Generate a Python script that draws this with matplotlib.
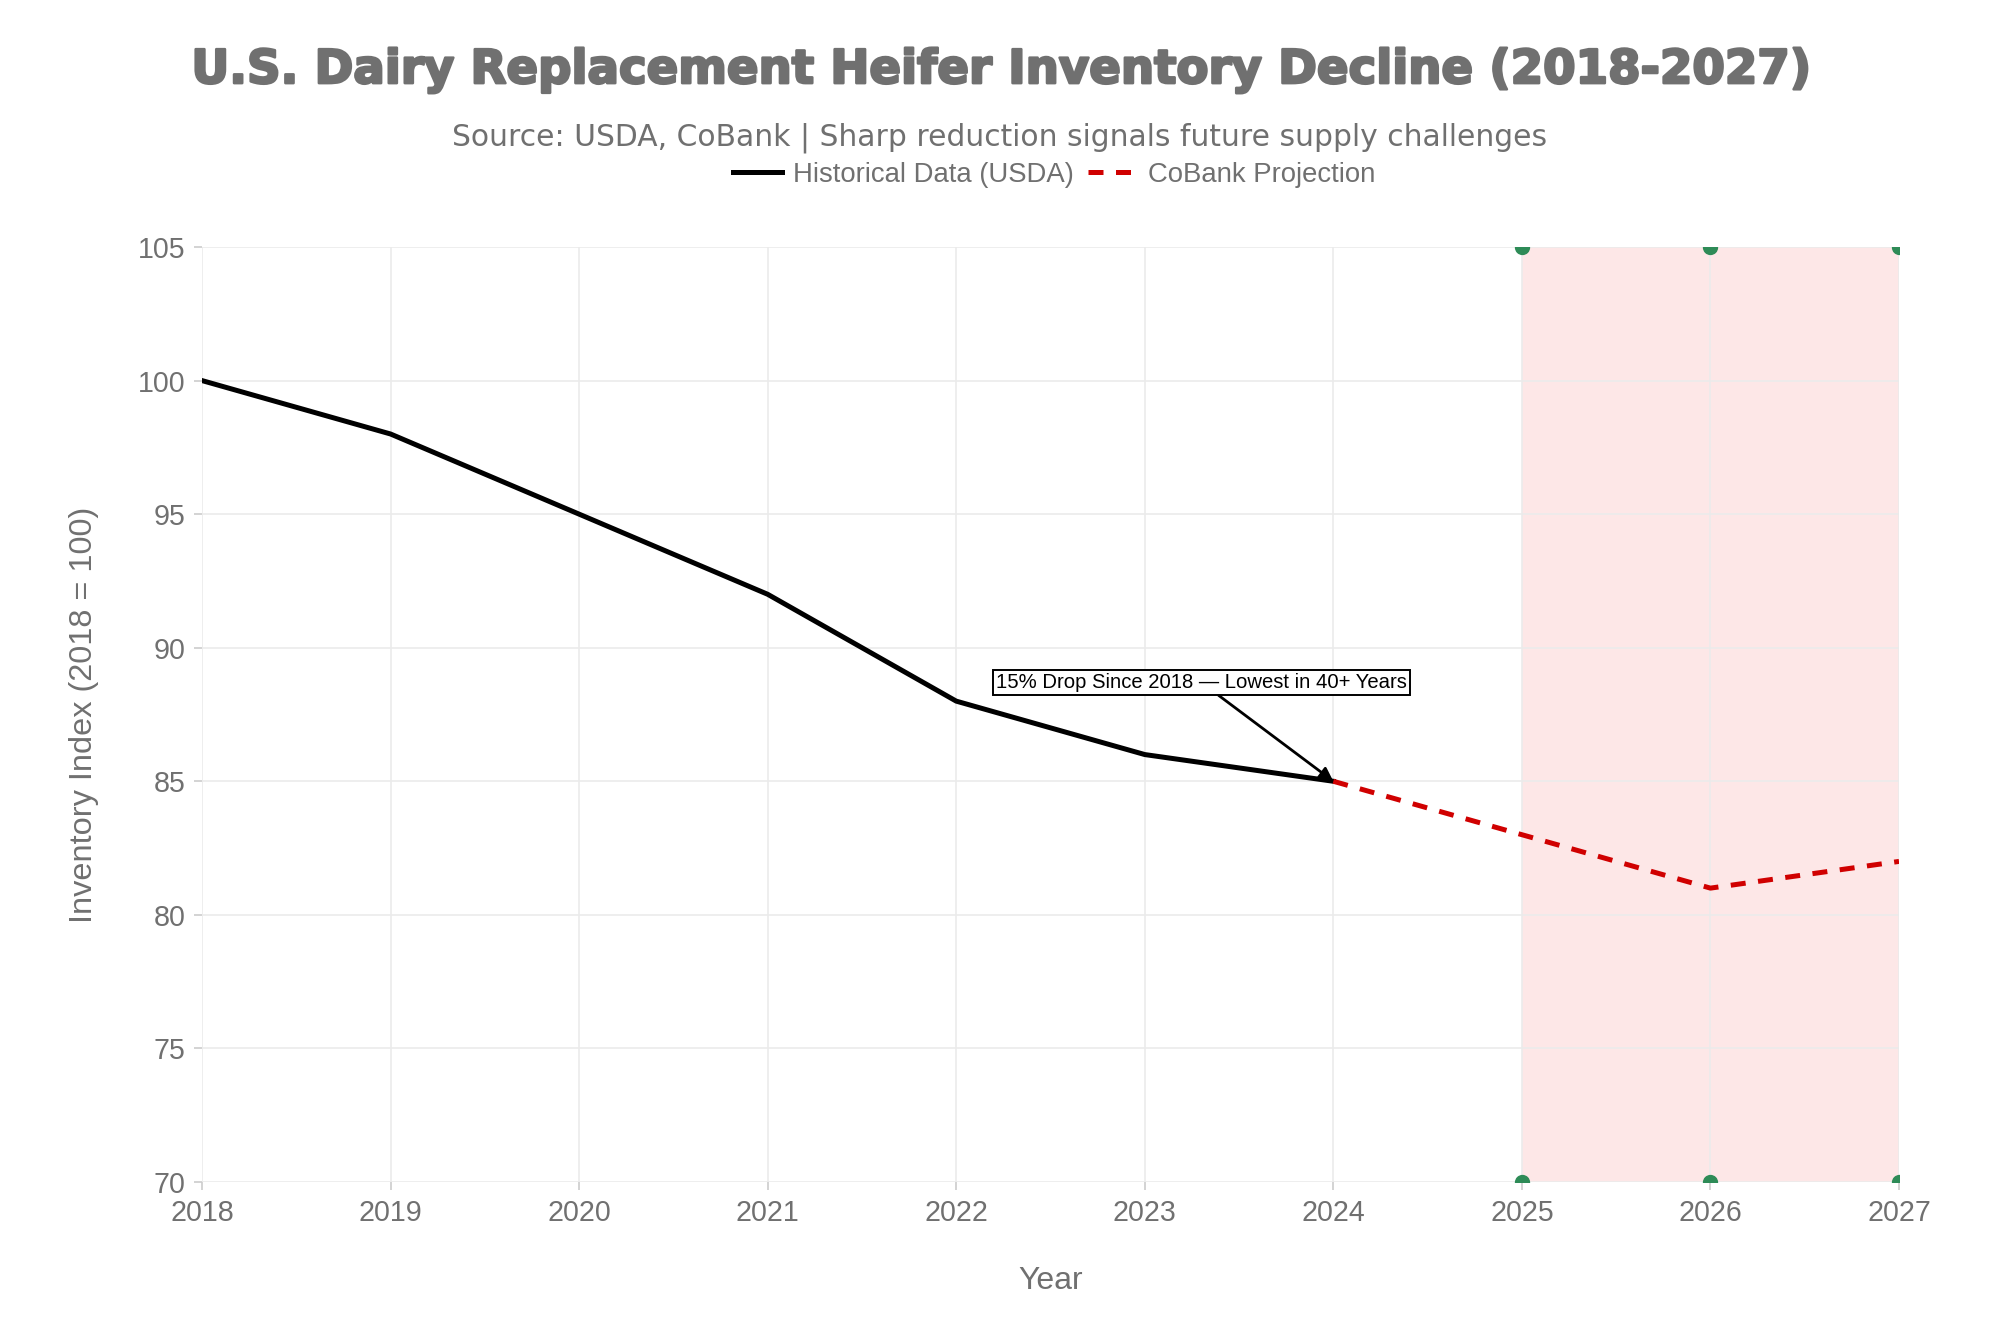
import numpy as np
import matplotlib.pyplot as plt
import matplotlib.patheffects as pe
from matplotlib.lines import Line2D

# data
hist_years = [2018, 2019, 2020, 2021, 2022, 2023, 2024]
hist_index = [100, 98, 95, 92, 88, 86, 85]
proj_years = [2024, 2025, 2026, 2027]
proj_index = [85, 83, 81, 82]
shade_years = [2025, 2026, 2027]
y_ticks = [70, 75, 80, 85, 90, 95, 100, 105]

grey = '#707070'
plt.rcParams['font.family'] = ['Liberation Sans', 'DejaVu Sans']

fig = plt.figure(figsize=(10, 6.665), dpi=200)
ax = fig.add_axes([0.101, 0.1133, 0.8485, 0.7014])

ax.axvspan(2025, 2027, color='#fde7e7', zorder=0, lw=0)
ax.plot(hist_years, hist_index, color='black', lw=1.8, zorder=3)
ax.plot(proj_years, proj_index, color='#d00000', lw=1.8, ls=(0, (3, 2.5)), zorder=3)
for yv in (70, 105):
    ax.plot(shade_years, [yv] * len(shade_years), 'o', color='#2e8b57',
            ms=4.5, ls='none', zorder=4, clip_on=True)

ax.annotate('15% Drop Since 2018 \u2014 Lowest in 40+ Years',
            xy=(2024, 85), xytext=(2023.3, 88.7),
            ha='center', va='center', fontsize=7.3, color='black',
            bbox=dict(boxstyle='square,pad=0.15', fc='white', ec='black', lw=0.7),
            arrowprops=dict(arrowstyle='-|>', color='black', lw=1.0,
                            mutation_scale=10, shrinkA=0, shrinkB=0),
            zorder=5)

ax.set_xlim(2018, 2027)
ax.set_ylim(70, 105)
ax.set_xticks(range(2018, 2028))
ax.set_yticks(y_ticks)
ax.grid(True, color='#ebebeb', lw=0.6, zorder=1)
ax.set_axisbelow(True)
for s in ax.spines.values():
    s.set_visible(False)
ax.tick_params(axis='both', colors='#cccccc', labelcolor=grey, labelsize=10.3,
               length=3, width=0.6, pad=3)

ax.set_xlabel('Year', fontsize=11.5, color=grey, labelpad=14)
ax.set_ylabel('Inventory Index (2018 = 100)', fontsize=11.7, color=grey, labelpad=14)

fig.text(0.5, 0.947, 'U.S. Dairy Replacement Heifer Inventory Decline (2018-2027)',
         ha='center', va='center', fontsize=16.8, fontweight='bold', color=grey,
         family='DejaVu Sans',
         path_effects=[pe.withStroke(linewidth=0.9, foreground=grey)])
fig.text(0.5, 0.897, 'Source: USDA, CoBank | Sharp reduction signals future supply challenges',
         ha='center', va='center', fontsize=10.7, color=grey, family='DejaVu Sans')

handles = [Line2D([], [], color='black', lw=1.8),
           Line2D([], [], color='#d00000', lw=1.8, ls=(0, (3, 2.5)))]
leg = fig.legend(handles, ['Historical Data (USDA)', 'CoBank Projection'],
                 loc='center', bbox_to_anchor=(0.527, 0.869), ncol=2, frameon=False,
                 fontsize=9.9, handlelength=1.8, handletextpad=0.4, columnspacing=0.5,
                 borderaxespad=0)
for t in leg.get_texts():
    t.set_color(grey)

fig.savefig('out.png', dpi=200)
